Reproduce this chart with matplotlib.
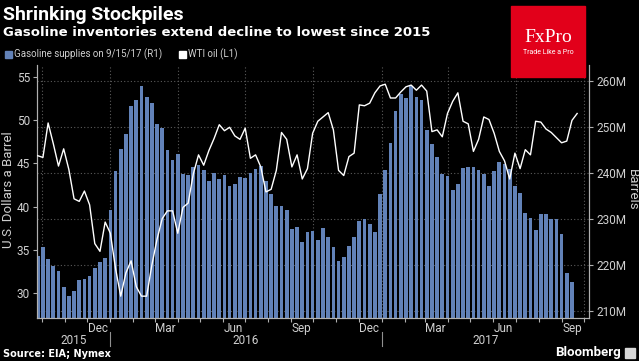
import numpy as np
import pandas as pd
import matplotlib
matplotlib.use('Agg')
from matplotlib import pyplot as plt
import matplotlib.dates as mdates
from matplotlib.patches import Rectangle
from matplotlib.transforms import blended_transform_factory

plt.rcParams['font.family'] = ['Roboto', 'DejaVu Sans']

## Data
# weekly gasoline inventories, million barrels (right axis)
gasoline = [
    221.9, 223.9, 221.2, 219.7, 218.6, 215.2, 213.1, 214.2, 216.7, 216.8,
    217.5, 219.3, 220.5, 221.4, 231.9, 240.4, 245.1, 248.4, 254.4, 255.7,
    258.8, 256.4, 255.1, 250.5, 249.7, 245.0, 242.7, 244.0, 239.7, 239.6,
    241.2, 241.7, 240.5, 238.1, 240.0, 238.6, 239.6, 237.0, 237.6, 239.0,
    238.9, 240.0, 240.9, 241.5, 238.2, 235.3, 232.7, 232.7, 231.9, 227.7,
    228.3, 225.0, 227.1, 227.4, 225.4, 227.9, 226.0, 223.8, 220.9, 221.7,
    224.0, 226.1, 229.6, 230.0, 228.8, 227.1, 235.4, 240.5, 246.4, 253.3,
    257.1, 256.2, 258.8, 256.5, 255.9, 249.3, 246.3, 243.5, 239.8, 239.2,
    236.2, 237.6, 241.0, 241.2, 241.2, 240.6, 239.8, 237.0, 240.3, 242.4,
    241.9, 240.9, 237.2, 235.6, 231.2, 230.1, 227.6, 231.0, 231.0, 229.9,
    229.9, 226.7, 218.3, 216.2,
]
# WTI crude, USD per barrel (left axis), one more week than the bars
wti = [
    45.9, 45.7, 49.7, 47.3, 44.7, 46.7, 44.3, 40.9, 40.6, 41.8,
    40.2, 35.7, 34.8, 38.2, 36.9, 32.8, 29.6, 32.3, 33.7, 30.7,
    29.6, 29.6, 33.2, 36.2, 38.6, 39.5, 39.5, 36.9, 39.9, 40.4,
    43.8, 46.0, 44.8, 46.5, 47.9, 49.5, 48.8, 49.2, 48.2, 47.8,
    49.1, 45.6, 46.0, 44.6, 41.7, 42.0, 44.2, 48.6, 47.8, 44.6,
    46.0, 43.2, 44.4, 48.5, 49.9, 50.4, 50.9, 48.9, 44.2, 43.6,
    45.8, 46.2, 51.8, 51.7, 52.0, 53.2, 54.0, 54.2, 52.6, 52.6,
    53.3, 53.9, 54.1, 53.5, 54.1, 53.4, 48.7, 48.9, 48.1, 50.8,
    52.2, 53.2, 49.9, 49.6, 46.4, 47.8, 50.4, 50.1, 48.5, 46.4,
    45.3, 43.2, 46.2, 44.4, 46.6, 46.0, 49.9, 49.8, 49.0, 48.6,
    48.0, 47.4, 47.6, 50.0, 50.8,
]
first_week = '2015-09-25'
bar_dates = pd.date_range(first_week, periods=len(gasoline), freq='7D')
wti_dates = pd.date_range(first_week, periods=len(wti), freq='7D')

left_ticks = [30, 35, 40, 45, 50, 55]
right_ticks = [210, 220, 230, 240, 250, 260]
years = [2015, 2016, 2017]

bg = 'black'
txt = '#d0d0d0'
bar_color = '#6282b8'
grid_color = '#5a5a5a'

fig = plt.figure(figsize=(6.39, 3.61), dpi=100, facecolor=bg)
W, H = 639, 361
ax = fig.add_axes([37 / W, 1 - 318.3 / H, 552 / W, (318.3 - 65) / H])
ax2 = ax.twinx()
ax.set_zorder(ax2.get_zorder() + 1)
ax.patch.set_visible(False)
ax2.set_facecolor(bg)

x0, x1 = pd.Timestamp('2015-09-24'), pd.Timestamp('2017-10-08')

# bars (right axis)
ax2.bar(bar_dates, gasoline, width=5, color=bar_color, zorder=2)
ax2.set_ylim(208.35, 263.4)
ax2.set_yticks(right_ticks)
ax2.set_yticklabels([f'{t}M' for t in right_ticks])
ax2.yaxis.grid(True, color=grid_color, linestyle=(0, (1, 2)), linewidth=0.8, zorder=0)
ax2.set_axisbelow(True)
for q in pd.date_range('2015-10-01', '2017-10-01', freq='QS'):
    ax2.axvline(q, color=grid_color, linestyle=(0, (1, 2)), linewidth=0.8, zorder=0)

# line (left axis)
ax.plot(wti_dates, wti, color='white', linewidth=1.0, zorder=3)
ax.set_ylim(27.03, 56.43)
ax.set_yticks(left_ticks)
ax.set_xlim(x0, x1)

for a in (ax, ax2):
    for s in a.spines.values():
        s.set_color('#b0b0b0')
        s.set_linewidth(0.8)
    a.spines['top'].set_visible(False)
    a.tick_params(axis='y', colors='#b0b0b0', labelcolor=txt, labelsize=8.5,
                  length=3, width=0.8, pad=2)

fig.text(9 / W, 1 - 190 / H, 'U.S. Dollars a Barrel', color=txt, fontsize=9.5,
         rotation=90, ha='center', va='center')
fig.text(632 / W, 1 - 190 / H, 'Barrels', color=txt, fontsize=9.5,
         rotation=270, ha='center', va='center')

# x axis: month boundary ticks, month names mid-month
ax.xaxis.set_major_locator(mdates.MonthLocator())
ax.xaxis.set_major_formatter(plt.NullFormatter())
ax.xaxis.set_minor_locator(mdates.MonthLocator(bymonth=[3, 6, 9, 12], bymonthday=15))
ax.xaxis.set_minor_formatter(mdates.DateFormatter('%b'))
ax.tick_params(axis='x', which='major', length=3, width=0.8, colors='#b0b0b0')
ax.tick_params(axis='x', which='minor', length=0, labelcolor=txt, labelsize=8.5, pad=3)

tr = blended_transform_factory(ax.transData, ax.transAxes)
for y in years:
    a = max(pd.Timestamp(f'{y}-01-01'), x0)
    b = min(pd.Timestamp(f'{y + 1}-01-01'), x1)
    mid = a + (b - a) / 2
    ax.text(mid, -0.087, str(y), transform=tr, ha='center', va='center',
            color=txt, fontsize=8.5)
    if y > years[0]:
        ax.plot([a, a], [-0.055, -0.108], transform=tr, color='#909090',
                linewidth=0.8, clip_on=False)

# titles and legend row
fig.text(3 / W, 1 - 15 / H, 'Shrinking Stockpiles', color='white',
         fontsize=14, fontweight='bold', va='center', ha='left')
fig.text(3 / W, 1 - 33 / H, 'Gasoline inventories extend decline to lowest since 2015',
         color='white', fontsize=9.5, fontweight='bold', va='center', ha='left',
         family='DejaVu Sans')
fig.patches.append(Rectangle((5 / W, 1 - 57.5 / H), 6.5 / W, 6.5 / H,
                             transform=fig.transFigure, color=bar_color))
fig.text(14 / W, 1 - 54.5 / H, 'Gasoline supplies on 9/15/17 (R1)', color=txt,
         fontsize=7, va='center', ha='left')
fig.patches.append(Rectangle((179 / W, 1 - 57.5 / H), 6.5 / W, 6.5 / H,
                             transform=fig.transFigure, color='white'))
fig.text(188 / W, 1 - 54.5 / H, 'WTI oil (L1)', color=txt,
         fontsize=7, va='center', ha='left')

# FxPro badge
fig.patches.append(Rectangle((511 / W, 1 - 77 / H), 74 / W, 71 / H,
                             transform=fig.transFigure, color='#e2001a', zorder=5))
fig.text(548 / W, 1 - 38 / H, 'FxPro', color='white', fontsize=14,
         family=['Liberation Serif', 'DejaVu Serif'], ha='center', va='center', zorder=6)
fig.text(548 / W, 1 - 52.5 / H, 'Trade Like a Pro', color='white', fontsize=5,
         ha='center', va='center', zorder=6)

# footer
fig.text(3 / W, 1 - 354 / H, 'Source: EIA; Nymex', color='white', fontsize=7,
         fontweight='bold', va='center', ha='left', family='DejaVu Sans')
fig.text(621 / W, 1 - 352.5 / H, 'Bloomberg', color='white', fontsize=9.5,
         fontweight='bold', va='center', ha='right')
fig.patches.append(Rectangle((625 / W, 1 - 358 / H), 10 / W, 10 / H,
                             transform=fig.transFigure, color='#d8d8d8'))

fig.savefig('out.png', dpi=100, facecolor=bg)
